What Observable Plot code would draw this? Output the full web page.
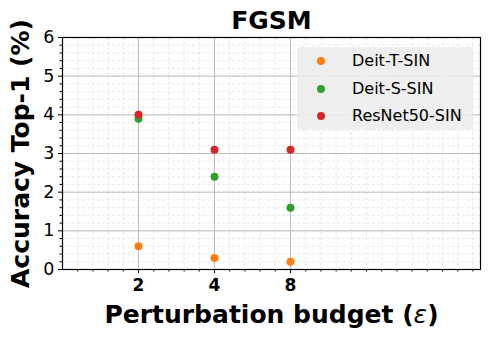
<!DOCTYPE html>
<html><head><meta charset="utf-8">
<script src="https://cdn.jsdelivr.net/npm/d3@7"></script>
<script src="https://cdn.jsdelivr.net/npm/@observablehq/plot@0.6"></script>
<style>
body{margin:0;background:#fff;}
#wrap{position:relative;width:490px;height:340px;font-family:"DejaVu Sans",sans-serif;color:#000;}
.legend{position:absolute;left:297px;top:47px;width:176px;height:83px;background:rgba(236,236,236,0.85);border-radius:4px;}
.legend .row{position:absolute;left:0;height:20px;line-height:20px;font-size:16px;white-space:nowrap;}
.legend .dot{position:absolute;left:20px;top:6px;width:8px;height:8px;border-radius:50%;}
.legend .lab{position:absolute;left:55px;top:0;}
</style></head>
<body><div id="wrap"></div>
<script>
const epsLabels = ["2", "4", "8"];
const epsPos = [1, 2, 3];
const seriesNames = ["Deit-T-SIN", "Deit-S-SIN", "ResNet50-SIN"];
const seriesColors = ["#ff7f0e", "#2ca02c", "#d62728"];
const deitT = [0.6, 0.3, 0.2];
const deitS = [3.9, 2.4, 1.6];
const resnet = [4.0, 3.1, 3.1];
const yTicks = [0, 1, 2, 3, 4, 5, 6];
const title = "FGSM";
const xLabel = "Perturbation budget (ε)";
const yLabel = "Accuracy Top-1 (%)";

const seriesValues = [deitT, deitS, resnet];
const data = [];
seriesNames.forEach((s, k) => epsPos.forEach((x, i) => data.push({series: s, x, y: seriesValues[k][i]})));

const minorX = d3.range(1, 28).map(i => +(i * 0.2).toFixed(1));
const minorY = d3.range(1, 30).map(i => +(i * 0.2).toFixed(1));
const minorXTicks = minorX.filter(v => !epsPos.includes(v));
const minorYTicks = minorY.filter(v => !yTicks.includes(v));

const chart = Plot.plot({
  width: 490, height: 340,
  marginLeft: 62, marginRight: 10, marginTop: 37, marginBottom: 71,
  style: {fontFamily: "DejaVu Sans, sans-serif", color: "#000", background: "transparent"},
  x: {domain: [0, 5.5], axis: null},
  y: {domain: [0, 6], axis: null},
  color: {domain: seriesNames, range: seriesColors},
  marks: [
    Plot.gridX(minorX, {stroke: "#d8d8d8", strokeOpacity: 0.7, strokeDasharray: "3,2", strokeWidth: 0.8}),
    Plot.gridY(minorY, {stroke: "#d8d8d8", strokeOpacity: 0.7, strokeDasharray: "3,2", strokeWidth: 0.8}),
    Plot.gridX(epsPos, {stroke: "#b8b8b8", strokeOpacity: 1, strokeWidth: 0.9}),
    Plot.gridY(yTicks.slice(1, -1), {stroke: "#b8b8b8", strokeOpacity: 1, strokeWidth: 0.9}),
    Plot.dot(data, {x: "x", y: "y", fill: "series", r: 4, stroke: null}),
    Plot.frame({stroke: "#000", strokeWidth: 1.2}),
    Plot.axisX(epsPos, {tickSize: 4, tickPadding: 5, fontSize: 17, fontWeight: "bold", tickFormat: d => epsLabels[epsPos.indexOf(d)], label: null}),
    Plot.axisX(minorXTicks, {tickSize: 2.5, tickFormat: () => "", label: null}),
    Plot.axisY(yTicks, {tickSize: 4, tickPadding: 4, fontSize: 17.5, tickFormat: d => String(d), label: null}),
    Plot.axisY(minorYTicks, {tickSize: 2.5, tickFormat: () => "", label: null}),
    Plot.text([title], {frameAnchor: "top", lineAnchor: "middle", dy: -16.5, fontSize: 25, fontWeight: "bold", text: d => d}),
    Plot.text([xLabel], {frameAnchor: "bottom", lineAnchor: "middle", dy: 45, fontSize: 25, fontWeight: "bold", text: d => d}),
    Plot.text([yLabel], {frameAnchor: "left", textAnchor: "middle", lineAnchor: "middle", dx: -42, rotate: -90, fontSize: 25, fontWeight: "bold", text: d => d})
  ]
});

// italic epsilon in x label
d3.select(chart).selectAll("text").each(function() {
  if (this.textContent === xLabel) {
    const t = d3.select(this);
    t.text("");
    const parts = xLabel.split("ε");
    t.append("tspan").text(parts[0]);
    t.append("tspan").attr("font-style", "italic").attr("font-weight", "normal").text("ε");
    t.append("tspan").text(parts[1]);
  }
});

const wrap = document.getElementById("wrap");
wrap.appendChild(chart);

const legend = document.createElement("div");
legend.className = "legend";
seriesNames.forEach((s, i) => {
  const row = document.createElement("div");
  row.className = "row";
  row.style.top = (4 + i * 27.5) + "px";
  const dot = document.createElement("div");
  dot.className = "dot";
  dot.style.background = seriesColors[i];
  const lab = document.createElement("div");
  lab.className = "lab";
  lab.textContent = s;
  row.appendChild(dot); row.appendChild(lab);
  legend.appendChild(row);
});
wrap.appendChild(legend);
</script></body></html>
